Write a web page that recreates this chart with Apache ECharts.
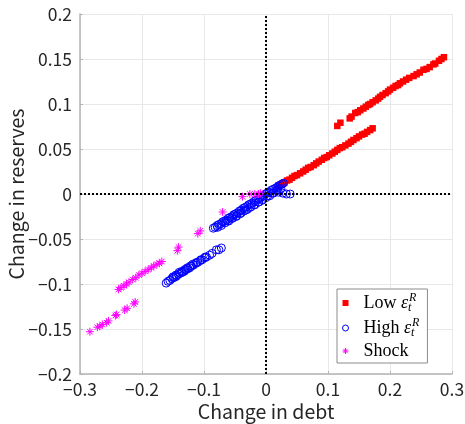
<!DOCTYPE html>
<html>
<head>
<meta charset="utf-8">
<script src="https://cdn.jsdelivr.net/npm/echarts@6/dist/echarts.min.js"></script>
<style>html,body{margin:0;padding:0;background:#fff}#c{width:465px;height:424px}</style>
</head>
<body>
<div id="c"></div>
<script>
// ---- data ----
const xTicks = [-0.3, -0.2, -0.1, 0, 0.1, 0.2, 0.3];
const yTicks = [-0.2, -0.15, -0.1, -0.05, 0, 0.05, 0.1, 0.15, 0.2];
const seriesNames = ['Low', 'High', 'Shock'];

const lowDebt = [0.020,0.025,0.030,0.034,0.038,0.042,0.046,0.050,0.055,0.060,0.064,0.068,0.072,0.077,0.081,0.085,0.090,0.094,0.098,0.102,0.107,0.111,0.115,0.119,0.123,0.128,0.133,0.137,0.141,0.146,0.150,0.155,0.159,0.163,0.168,0.172,
  0.115,0.120,0.135,0.138,0.144,0.148,0.152,0.157,0.161,0.165,0.168,0.172,0.177,0.181,0.184,0.188,0.193,0.197,0.200,0.205,0.209,0.213,0.216,0.221,0.226,0.231,0.238,0.243,0.248,0.254,0.259,0.264,0.270,0.273,0.279,0.283,0.287];
const lowRes = [0.009,0.011,0.013,0.015,0.016,0.018,0.020,0.021,0.023,0.025,0.027,0.029,0.030,0.032,0.034,0.036,0.038,0.040,0.041,0.043,0.045,0.047,0.049,0.051,0.052,0.054,0.056,0.058,0.060,0.062,0.064,0.066,0.067,0.069,0.071,0.073,
  0.0756,0.0792,0.084,0.086,0.090,0.091,0.093,0.095,0.097,0.099,0.100,0.102,0.104,0.106,0.108,0.110,0.112,0.114,0.116,0.118,0.120,0.121,0.123,0.125,0.127,0.129,0.131,0.133,0.135,0.138,0.139,0.141,0.144,0.145,0.148,0.150,0.152];

const highDebt = [-0.161,-0.158,-0.155,-0.152,-0.149,-0.146,-0.144,-0.141,-0.138,-0.135,-0.132,-0.129,-0.126,-0.123,-0.120,-0.117,-0.113,-0.110,-0.106,-0.103,-0.099,-0.096,-0.091,-0.087,-0.076,-0.072,
  -0.150,-0.145,-0.140,-0.136,-0.131,-0.127,-0.122,-0.118,-0.112,-0.105,-0.098,-0.080,
  -0.085,-0.082,-0.079,-0.076,-0.073,-0.070,-0.067,-0.064,-0.061,-0.058,-0.055,-0.052,-0.049,-0.046,-0.043,-0.040,-0.037,-0.034,-0.031,-0.028,-0.025,-0.022,-0.019,-0.016,-0.013,-0.010,-0.007,-0.004,-0.001,0.002,0.005,0.008,0.011,0.014,0.017,0.020,0.023,0.026,0.028,
  -0.078,-0.072,-0.066,-0.060,-0.054,-0.048,-0.042,-0.036,-0.030,-0.024,-0.018,-0.012,-0.006,0.000,0.006,0.012,0.018,0.024,
  -0.062,-0.055,-0.047,-0.040,-0.033,-0.026,-0.019,-0.012,-0.005,0.003,0.010,0.017,
  0.020,0.027,0.033,0.039];
const highRes = [-0.099,-0.097,-0.096,-0.094,-0.093,-0.092,-0.091,-0.089,-0.088,-0.087,-0.086,-0.084,-0.083,-0.082,-0.080,-0.079,-0.077,-0.076,-0.074,-0.073,-0.071,-0.070,-0.068,-0.066,-0.062,-0.060,
  -0.092,-0.090,-0.087,-0.086,-0.084,-0.082,-0.080,-0.078,-0.076,-0.073,-0.070,-0.062,
  -0.038,-0.037,-0.035,-0.034,-0.033,-0.031,-0.030,-0.029,-0.027,-0.026,-0.025,-0.023,-0.022,-0.021,-0.019,-0.018,-0.016,-0.015,-0.014,-0.012,-0.011,-0.010,-0.008,-0.007,-0.006,-0.004,-0.003,-0.002,0.000,0.001,0.002,0.004,0.005,0.006,0.007,0.009,0.010,0.011,0.012,
  -0.037,-0.035,-0.032,-0.030,-0.027,-0.025,-0.022,-0.019,-0.017,-0.014,-0.012,-0.009,-0.007,-0.004,-0.002,0.001,0.004,0.006,
  -0.030,-0.027,-0.024,-0.021,-0.018,-0.015,-0.012,-0.009,-0.006,-0.002,0.001,0.004,
  0.002,0.001,0.000,0.000];

const shockDebt = [-0.284,-0.272,-0.268,-0.264,-0.257,-0.254,-0.243,-0.241,-0.228,-0.224,-0.213,-0.211,
  -0.238,-0.234,-0.229,-0.225,-0.221,-0.215,-0.210,-0.205,-0.200,-0.195,-0.190,-0.185,-0.181,-0.176,-0.172,-0.168,
  -0.143,-0.141,-0.110,-0.106,-0.070,-0.038,-0.026,-0.018,-0.012,-0.009];
const shockRes = [-0.153,-0.148,-0.147,-0.145,-0.143,-0.141,-0.135,-0.134,-0.129,-0.127,-0.122,-0.120,
  -0.106,-0.104,-0.102,-0.100,-0.098,-0.095,-0.093,-0.090,-0.088,-0.086,-0.084,-0.082,-0.080,-0.078,-0.077,-0.075,
  -0.063,-0.059,-0.044,-0.041,-0.020,-0.003,0.000,0.000,0.000,0.001];

function pairs(xs, ys){ return xs.map((x,i)=>[x, ys[i]]); }

const starPath = 'path://M5,0L5,10M0,5L10,5M1.5,1.5L8.5,8.5M8.5,1.5L1.5,8.5';
const squarePath = 'path://M0,0L10,0L10,10L0,10Z';
const sansFont = '"Noto Sans CJK JP","Noto Sans",sans-serif';
const serifFont = '"Liberation Serif","DejaVu Serif",serif';
const fmt = v => (Math.round(v*100)/100).toString().replace('-', '\u2212');

const chart = echarts.init(document.getElementById('c'), null, {renderer:'canvas'});
const rich = {
  n:{fontFamily:serifFont,fontSize:18,color:'#000',lineHeight:22},
  e:{fontFamily:serifFont,fontSize:18,fontStyle:'italic',color:'#000',lineHeight:22},
  sub:{fontFamily:serifFont,fontSize:12,fontStyle:'italic',color:'#000',lineHeight:12,verticalAlign:'bottom',width:1},
  sup:{fontFamily:serifFont,fontSize:12,fontStyle:'italic',color:'#000',lineHeight:12,verticalAlign:'top'}
};
chart.setOption({
  animation:false,
  backgroundColor:'#fff',
  grid:{left:80,right:13,top:14,bottom:50,containLabel:false,outerBoundsMode:'none'},
  xAxis:{
    type:'value',min:xTicks[0],max:xTicks[xTicks.length-1],interval:0.1,
    name:'Change in debt',nameLocation:'middle',nameGap:28,nameMoveOverlap:false,
    nameTextStyle:{fontFamily:sansFont,fontSize:19.5,color:'#262626'},
    axisLine:{onZero:false,lineStyle:{color:'#b4b4b4',width:1.5}},
    axisTick:{inside:true,length:3,lineStyle:{color:'#b4b4b4'}},
    axisLabel:{formatter:fmt,fontFamily:sansFont,fontSize:17.5,color:'#262626',margin:7},
    splitLine:{show:true,lineStyle:{color:'#e8e8e8',width:1}}
  },
  yAxis:{
    type:'value',min:yTicks[0],max:yTicks[yTicks.length-1],interval:0.05,
    name:'Change in reserves',nameLocation:'middle',nameGap:54,nameMoveOverlap:false,
    nameTextStyle:{fontFamily:sansFont,fontSize:19.5,color:'#262626'},
    axisLine:{onZero:false,show:true,lineStyle:{color:'#b4b4b4',width:1.5}},
    axisTick:{show:true,inside:true,length:3,lineStyle:{color:'#b4b4b4'}},
    axisLabel:{formatter:fmt,fontFamily:sansFont,fontSize:17.5,color:'#262626',margin:8},
    splitLine:{show:true,lineStyle:{color:'#e8e8e8',width:1}}
  },
  legend:{
    orient:'vertical',left:337,top:289,
    backgroundColor:'#fff',borderColor:'#8c8c8c',borderWidth:1,borderRadius:0,
    padding:[3,8,3,5],itemGap:3,itemWidth:26,itemHeight:6,
    data:[
      {name:'Low',icon:squarePath,itemStyle:{color:'#ff0000'}},
      {name:'High',icon:'circle',itemStyle:{color:'transparent',borderColor:'#0000ff',borderWidth:1}},
      {name:'Shock',icon:starPath,itemStyle:{color:'transparent',borderColor:'#ff00ff',borderWidth:1}}
    ],
    formatter:function(name){
      if(name==='Low') return '{n|Low }{e|ε}{sub|t}{sup|R}';
      if(name==='High') return '{n|High }{e|ε}{sub|t}{sup|R}';
      return '{n|Shock}';
    },
    textStyle:{rich:rich,padding:[0,0,0,0]}
  },
  series:[
    {name:seriesNames[0],type:'scatter',data:pairs(lowDebt,lowRes),symbol:'rect',symbolSize:6.5,
     itemStyle:{color:'#ff0000',opacity:1},z:2},
    {name:seriesNames[1],type:'scatter',data:pairs(highDebt,highRes),symbol:'circle',symbolSize:8,
     itemStyle:{color:'transparent',borderColor:'#0000ff',borderWidth:1,opacity:1},z:3},
    {name:seriesNames[2],type:'scatter',data:pairs(shockDebt,shockRes),symbol:starPath,symbolSize:8,
     itemStyle:{color:'transparent',borderColor:'#ff00ff',borderWidth:1,opacity:1},z:4},
    {name:'zero',type:'scatter',data:[],z:5,
     markLine:{silent:true,symbol:['none','none'],label:{show:false},animation:false,
       lineStyle:{color:'#000',type:[2,2],width:2},
       data:[{xAxis:0},{yAxis:0}]}}
  ]
});
</script>
</body>
</html>
